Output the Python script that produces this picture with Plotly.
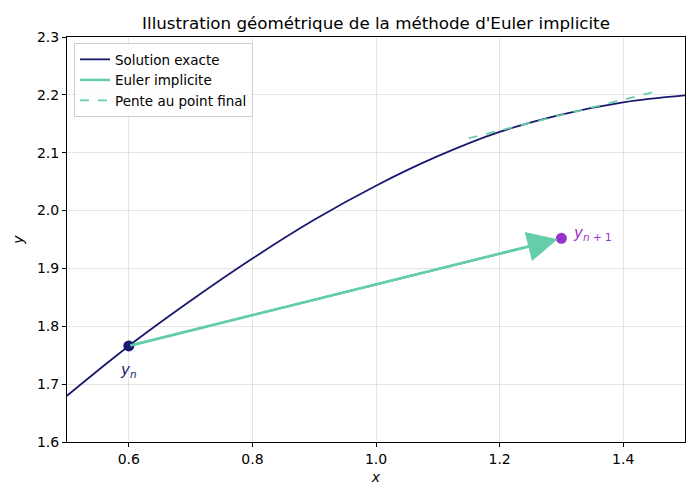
import plotly.graph_objects as go

# Exact solution
x_exact = [0.5, 0.6, 0.7, 0.8, 0.9, 1.0, 1.1, 1.2, 1.3, 1.4, 1.5]
y_exact = [1.680, 1.766, 1.844, 1.917, 1.984, 2.043, 2.094, 2.136, 2.166, 2.187, 2.199]

# Implicit Euler step
x_n, y_n = 0.6, 1.766
x_n1, y_n1 = 1.3, 1.952
x_euler = [x_n, x_n1]
y_euler = [y_n, y_n1]

# Slope at final point (dashed)
x_pente = [1.15, 1.45]
y_pente = [2.125, 2.205]

NAVY = "#191970"
GREEN = "#66CDAA"
PURPLE = "#9932CC"
FONT = "DejaVu Sans"

fig = go.Figure()
fig.add_trace(go.Scatter(x=x_exact, y=y_exact, mode="lines", name="Solution exacte",
                         line=dict(color=NAVY, width=1.8, shape="spline")))
fig.add_trace(go.Scatter(x=x_euler, y=y_euler, mode="lines", name="Euler implicite",
                         line=dict(color=GREEN, width=2.5)))
fig.add_trace(go.Scatter(x=x_pente, y=y_pente, mode="lines", name="Pente au point final",
                         line=dict(color=GREEN, width=1.8, dash="dash")))
fig.add_trace(go.Scatter(x=[x_n], y=[y_n], mode="markers", showlegend=False,
                         marker=dict(color=NAVY, size=11)))
fig.add_trace(go.Scatter(x=[x_n1], y=[y_n1], mode="markers", showlegend=False,
                         marker=dict(color=PURPLE, size=11)))

fig.add_annotation(x=x_n1, y=y_n1, ax=x_n, ay=y_n, xref="x", yref="y", axref="x", ayref="y",
                   text="", showarrow=True, arrowhead=2, arrowsize=2.4, arrowwidth=2.5,
                   arrowcolor=GREEN, standoff=4)
fig.add_annotation(x=x_n, y=y_n, text="<i>y</i><sub><i>n</i></sub>", showarrow=False,
                   xanchor="center", yanchor="middle", xshift=0, yshift=-25,
                   font=dict(family=FONT, size=15, color=NAVY))
fig.add_annotation(x=x_n1, y=y_n1, text="<i>y</i><sub><i>n</i> + 1</sub>", showarrow=False,
                   xanchor="left", yanchor="middle", xshift=10, yshift=5,
                   font=dict(family=FONT, size=15, color=PURPLE))

axis_common = dict(showline=True, linecolor="black", linewidth=1, mirror=True,
                   ticks="outside", ticklen=4, tickcolor="black", automargin=False,
                   showgrid=True, gridcolor="rgba(0,0,0,0.1)", gridwidth=1,
                   zeroline=False, tickfont=dict(family=FONT, size=14, color="black"))

fig.update_xaxes(range=[0.5, 1.5], tickvals=[0.6, 0.8, 1.0, 1.2, 1.4], tickformat=".1f",
                 title=dict(text="<i>x</i>", font=dict(family=FONT, size=14), standoff=6),
                 **axis_common)
fig.update_yaxes(range=[1.6, 2.3], dtick=0.1, tickformat=".1f",
                 title=dict(text="<i>y</i>", font=dict(family=FONT, size=14), standoff=10),
                 **axis_common)

# The page body has an 8px margin, so the figure is shrunk and margins reduced by 8px.
fig.update_layout(
    width=692, height=492,
    margin=dict(l=59, r=15, t=29, b=58, autoexpand=False),
    paper_bgcolor="white", plot_bgcolor="white",
    font=dict(family=FONT, size=14, color="black"),
    title=dict(text="Illustration géométrique de la méthode d'Euler implicite",
               xref="paper", x=0.5, xanchor="center", y=0.969, yanchor="middle", automargin=False,
               font=dict(family=FONT, size=16.7, color="black")),
    legend=dict(x=0.0113, y=0.985, xanchor="left", yanchor="top",
                bgcolor="rgba(255,255,255,0.8)", bordercolor="#cccccc", borderwidth=1,
                font=dict(family=FONT, size=13.5), tracegroupgap=0),
    showlegend=True,
)

fig.write_html("out.html")
